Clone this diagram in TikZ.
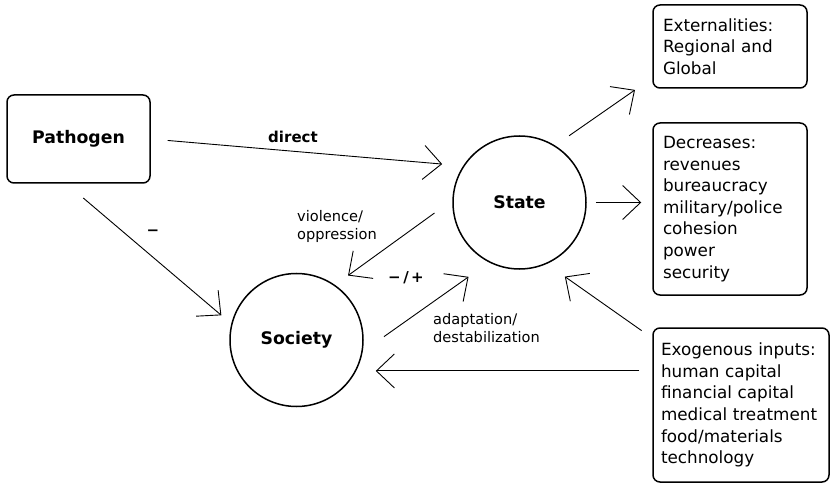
\documentclass[tikz,border=0pt]{standalone}
\usepackage{fontspec}
\setmainfont{DejaVu Sans}
\usetikzlibrary{arrows.meta}

\begin{document}
\begin{tikzpicture}[x=1pt,y=-1pt,
    box/.style={draw,line width=1.5pt,rounded corners=7pt,inner xsep=10pt,inner ysep=0pt,
      align=left,font=\fontsize{16.8}{21.6}\selectfont},
    actor/.style={draw,circle,line width=1.5pt,minimum size=133pt,inner sep=0pt,
      font=\bfseries\fontsize{17.3}{20}\selectfont},
    barb/.style={line width=0.9pt,-{Straight Barb[length=18pt,width=34pt]}},
    lbl/.style={inner sep=0pt,align=left,font=\fontsize{14.6}{18}\selectfont},
    sign/.style={inner sep=0pt,font=\bfseries\fontsize{15}{18}\selectfont}]
  \useasboundingbox (0,0) rectangle (831,484);

  % actors
  \node[box,align=center,inner xsep=0pt,minimum width=143pt,minimum height=88pt,
    font=\bfseries\fontsize{17.3}{20}\selectfont] (pathogen) at (78.5,139) {Pathogen};
  \node[actor] (state) at (519.5,202.5) {State};
  \node[actor] (society) at (296.5,340) {Society};

  % boxes on the right
  \node[box,text width=134pt,minimum height=83pt] (extern) at (730,46.5)
    {Externalities:\\Regional and\\Global};
  \node[box,text width=134pt,minimum height=172pt] (decr) at (730,209)
    {Decreases:\\revenues\\bureaucracy\\military/police\\cohesion\\power\\security};
  \node[box,inner xsep=8pt,text width=160pt,minimum height=154pt] (exo) at (741,405)
    {Exogenous inputs:\\human capital\\financial capital\\medical treatment\\food/materials\\technology};

  % labels
  \node[sign] (direct) at (293,137) {direct};
  \node[sign] (minus) at (153,233) {−};
  \node[lbl,anchor=west] (violence) at (297,226) {violence/\\oppression};
  \node[sign] (mixed) at (406,278) {−\,/\,+};
  \node[lbl,anchor=west] (adapt) at (433,328) {adaptation/\\destabilization};

  % arrows
  \draw[barb,shorten <=17pt,shorten >=21pt] (pathogen.east) -- (state.147);
  \draw[barb,shorten <=22pt,shorten >=13pt] (pathogen.255) -- (society.166);
  \draw[barb,shorten <=22pt,shorten >=16pt] (state.178) -- (society.55);
  \draw[barb,shorten <=26pt,shorten >=25pt] (society.350) -- (state.243);
  \draw[barb,shorten <=17pt,shorten >=21pt] (state.58) -- (extern.202);
  \draw[barb,shorten <=9pt,shorten >=11pt] (state.east) -- (state.east -| decr.west);
  \draw[barb,shorten <=13pt,shorten >=22pt] (exo.143) -- (state.294);
  \draw[barb,shorten <=13pt,shorten >=12pt] (exo.159) -- (exo.159 -| society.east);
\end{tikzpicture}
\end{document}
